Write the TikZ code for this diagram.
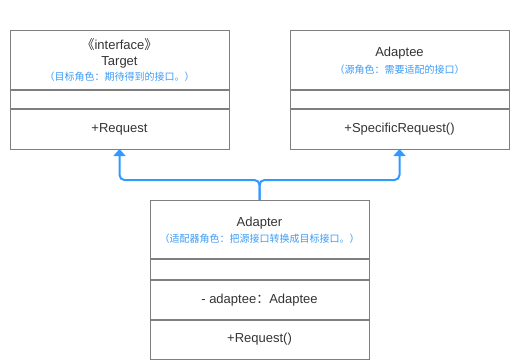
\documentclass[tikz,border=0pt]{standalone}
\usepackage{fontspec}
\setmainfont{Liberation Sans}
\newfontfamily\cjk{Noto Sans CJK SC}
\usetikzlibrary{arrows.meta}
\definecolor{boxline}{HTML}{7F7F7F}
\definecolor{txt}{HTML}{333333}
\definecolor{conn}{HTML}{3399FF}
\definecolor{note}{HTML}{3D9BF5}
\begin{document}
\begin{tikzpicture}[x=1pt,y=-1pt,
  part/.style={minimum width=219pt, inner sep=0pt, outer sep=0pt, anchor=north west},
  frame/.style={draw=boxline, line width=1pt},
  divider/.style={draw=boxline, line width=1.6pt},
  label/.style={text=txt, font=\fontsize{13}{15}\selectfont, inner sep=0pt},
  notetext/.style={text=note, font=\cjk\fontsize{10}{12}\selectfont, inner sep=0pt},
  realize/.style={draw=conn, line width=2pt, rounded corners=5pt, -{Triangle[length=7pt,width=12pt]}}]
\useasboundingbox (0,0) rectangle (510,360);

% Target
\node[part, minimum height=60pt] (th) at (10,30) {};
\node[part, minimum height=19pt] (ta) at (10,90) {};
\node[part, minimum height=40pt, label] (tm) at (10,109) {+Request};
\draw[frame] (th.north west) rectangle (tm.south east);
\draw[divider] (ta.north west) -- (ta.north east);
\draw[divider] (tm.north west) -- (tm.north east);
\node[label] (tst) at (119.5,45) {{\cjk 《}interface{\cjk 》}};
\node[label] (tname) at (119.5,62) {Target};
\node[notetext] (tnote) at (119.5,77) {（目标角色：期待得到的接口。）};

% Adaptee
\node[part, minimum height=60pt] (eh) at (290,30) {};
\node[part, minimum height=19pt] (ea) at (290,90) {};
\node[part, minimum height=40pt, label] (em) at (290,109) {+SpecificRequest()};
\draw[frame] (eh.north west) rectangle (em.south east);
\draw[divider] (ea.north west) -- (ea.north east);
\draw[divider] (em.north west) -- (em.north east);
\node[label] (ename) at (399.5,53) {Adaptee};
\node[notetext] (enote) at (399.5,70) {（源角色：需要适配的接口）};

% Adapter
\node[part, minimum height=59pt] (ah) at (150,200) {};
\node[part, minimum height=21pt] (aa) at (150,259) {};
\node[part, minimum height=40pt, label] (af) at (150,280) {- adaptee{\cjk ：}Adaptee};
\node[part, minimum height=39pt, label] (am) at (150,320) {+Request()};
\draw[frame] (ah.north west) rectangle (am.south east);
\draw[divider] (aa.north west) -- (aa.north east);
\draw[divider] (af.north west) -- (af.north east);
\draw[divider] (am.north west) -- (am.north east);
\node[label] (aname) at (259.5,223) {Adapter};
\node[notetext] (anote) at (259.5,239) {（适配器角色：把源接口转换成目标接口。）};

% connectors
\draw[realize] (ah.north) -- ++(0,-20) -| (tm.south);
\draw[realize] (ah.north) -- ++(0,-20) -| (em.south);
\end{tikzpicture}
\end{document}
